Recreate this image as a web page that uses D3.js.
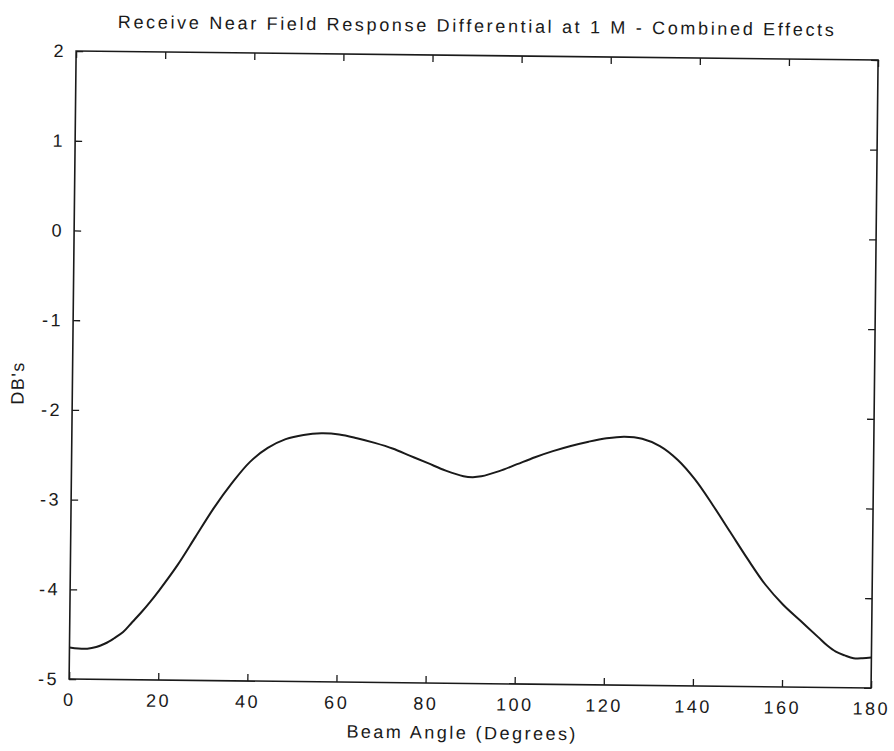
<!DOCTYPE html>
<html>
<head>
<meta charset="utf-8">
<script src="https://cdn.jsdelivr.net/npm/d3@7"></script>
<style>
  html, body { margin: 0; padding: 0; background: #fff; }
  svg { display: block; }
  text { font-family: "Liberation Sans", Arial, sans-serif; fill: #1a1a1a; }
</style>
</head>
<body>
<svg id="chart" width="894" height="751"></svg>
<script>
// Beam angle (degrees) and measured response differential (dB)
const beamAngle = [0, 2, 4, 6, 8, 10, 12, 14, 16, 18, 20, 24, 28, 32, 36, 40, 44, 48, 52, 56,
  60, 64, 68, 72, 76, 80, 84, 88, 90, 92, 96, 100, 104, 108, 112, 116, 120, 124, 128, 132,
  136, 140, 144, 148, 152, 156, 160, 164, 168, 170, 172, 174, 176, 178, 180];
const responseDb = [-4.65, -4.66, -4.66, -4.64, -4.60, -4.54, -4.47, -4.36, -4.25, -4.13, -4.00,
  -3.72, -3.40, -3.08, -2.80, -2.56, -2.40, -2.30, -2.25, -2.23,
  -2.24, -2.28, -2.33, -2.39, -2.47, -2.55, -2.63, -2.69, -2.70, -2.69, -2.63, -2.55, -2.47,
  -2.40, -2.34, -2.29, -2.25, -2.23, -2.25, -2.33,
  -2.48, -2.70, -2.98, -3.28, -3.58, -3.86, -4.08, -4.26, -4.44, -4.53, -4.60, -4.64, -4.67, -4.67, -4.66];

const xTicks = [0, 20, 40, 60, 80, 100, 120, 140, 160, 180];
const yTicks = [-5, -4, -3, -2, -1, 0, 1, 2];

const titleText = "Receive Near Field Response Differential at 1 M - Combined Effects";
const xLabelText = "Beam Angle (Degrees)";
const yLabelText = "DB's";

const plot = { left: 72.6, right: 874.6, top: 55.5, bottom: 683.5 };
const ink = "#1a1a1a";

const svg = d3.select("#chart");
// the printed page sits slightly skewed; tilt the whole figure about its centre
const root = svg.append("g")
  .attr("transform", "rotate(0.64 473.6 369.5)");

const x = d3.scaleLinear().domain([0, 180]).range([plot.left, plot.right]);
const y = d3.scaleLinear().domain([-5, 2]).range([plot.bottom, plot.top]);

// frame
root.append("rect")
  .attr("x", plot.left).attr("y", plot.top)
  .attr("width", plot.right - plot.left).attr("height", plot.bottom - plot.top)
  .attr("fill", "none").attr("stroke", ink).attr("stroke-width", 1.6);

const tickLen = 7;
const styleAxis = g => {
  g.select(".domain").remove();
  g.selectAll(".tick line").attr("stroke", ink).attr("stroke-width", 1.3);
  g.selectAll(".tick text")
    .style("font-size", "18px")
    .style("letter-spacing", "2.5px")
    .attr("fill", ink);
};

// bottom axis with labels
root.append("g")
  .attr("transform", `translate(0,${plot.bottom})`)
  .call(d3.axisBottom(x).tickValues(xTicks).tickSize(-tickLen).tickPadding(14).tickFormat(d3.format("d")))
  .call(styleAxis);
// top axis ticks only
root.append("g")
  .attr("transform", `translate(0,${plot.top})`)
  .call(d3.axisTop(x).tickValues(xTicks).tickSize(-tickLen).tickFormat(""))
  .call(styleAxis);
// left axis with labels
root.append("g")
  .attr("transform", `translate(${plot.left},0)`)
  .call(d3.axisLeft(y).tickValues(yTicks).tickSize(-tickLen).tickPadding(10).tickFormat(d3.format("d")))
  .call(styleAxis)
  .call(g => g.selectAll(".tick text").text(d => d < 0 ? "-" + Math.abs(d) : d));
// right axis ticks only
root.append("g")
  .attr("transform", `translate(${plot.right},0)`)
  .call(d3.axisRight(y).tickValues(yTicks).tickSize(-tickLen).tickFormat(""))
  .call(styleAxis);

// response curve
const pts = beamAngle.map((a, i) => [a, responseDb[i]]);
root.append("path")
  .datum(pts)
  .attr("fill", "none")
  .attr("stroke", ink)
  .attr("stroke-width", 2)
  .attr("stroke-linejoin", "round")
  .attr("d", d3.line().x(d => x(d[0])).y(d => y(d[1])).curve(d3.curveCatmullRom.alpha(0.5)));

// title
root.append("text")
  .attr("x", 472).attr("y", 32)
  .attr("text-anchor", "middle")
  .attr("textLength", 716).attr("lengthAdjust", "spacing")
  .style("font-size", "18px")
  .text(titleText);

// axis labels
root.append("text")
  .attr("x", 465).attr("y", 739)
  .attr("text-anchor", "middle")
  .attr("textLength", 229).attr("lengthAdjust", "spacing")
  .style("font-size", "18px")
  .text(xLabelText);

root.append("text")
  .attr("transform", "translate(24,388) rotate(-90)")
  .attr("text-anchor", "middle")
  .style("font-size", "18px")
  .style("letter-spacing", "1.5px")
  .text(yLabelText);
</script>
</body>
</html>
